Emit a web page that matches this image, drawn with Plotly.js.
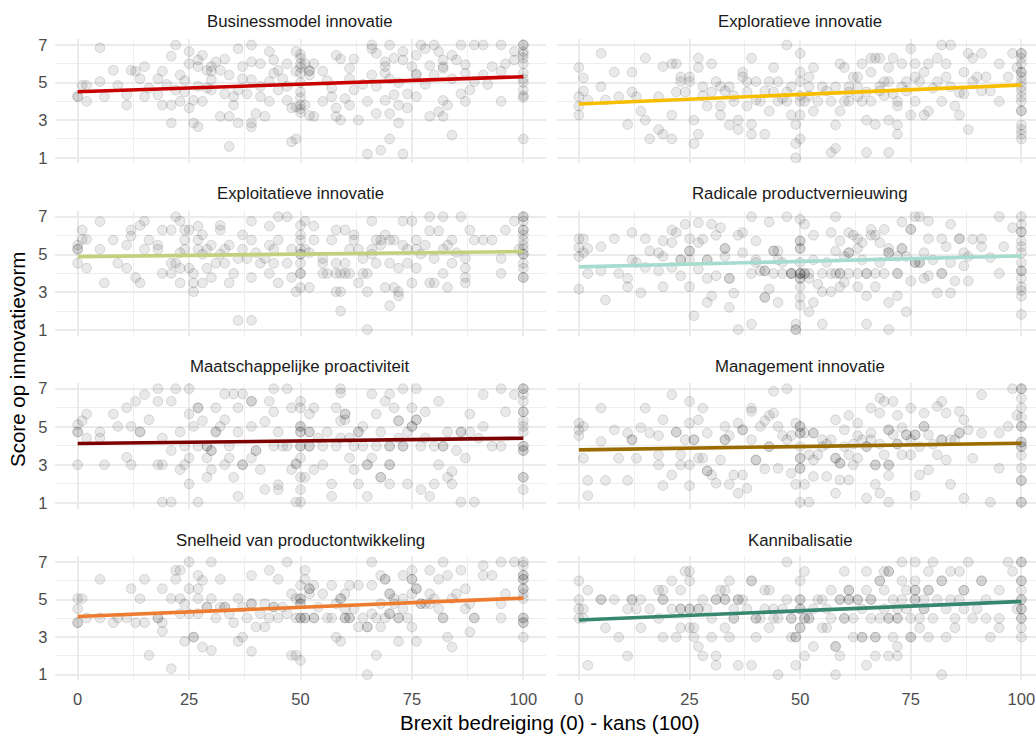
<!DOCTYPE html>
<html><head><meta charset="utf-8">
<script src="https://cdn.plot.ly/plotly-3.0.1.min.js"></script>
<style>html,body{margin:0;padding:0;overflow:hidden;background:#fff;width:1036px;height:735px}#chart{width:1044px;height:735px}</style>
</head><body><div id="chart"></div>
<script>
const panelTitles = ["Businessmodel innovatie","Exploratieve innovatie","Exploitatieve innovatie","Radicale productvernieuwing","Maatschappelijke proactiviteit","Management innovatie","Snelheid van productontwikkeling","Kannibalisatie"];
const xAxisTitle = "Brexit bedreiging (0) - kans (100)";
const yAxisTitle = "Score op innovatievorm";
const fitX = [0, 100];
const fitStart = [4.51, 3.86, 4.89, 4.35, 4.12, 3.79, 4.10, 3.91];
const fitEnd   = [5.31, 4.87, 5.16, 4.93, 4.40, 4.14, 5.08, 4.90];
const xTickVals = [0, 25, 50, 75, 100];
const xTickText = ["0", "25", "50", "75", "100"];
const xMinorVals = [12.5, 37.5, 62.5, 87.5];
const yTickVals = [1, 3, 5, 7];
const yTickText = ["1", "3", "5", "7"];
const yMinorVals = [2, 4, 6];

const ptsBusinessmodel = [[5,6.85],[22,7],[21,6.4],[25,6.65],[25,6],[27,6.2],[27,5.85],[28,6.45],[29,5.65],[30,5.85],[31,6.1],[32,5.65],[33,6.25],[36,6.8],[37,5.85],[39,7],[39,6.1],[41,6],[43,6.65],[44,6.2],[45,5.65],[47,6],[49,6.65],[50,6.5],[50,6.3],[50,6],[50,5.8],[50,5.5],[50,5],[50,4.5],[50,4.2],[50,3.8],[50,3.6],[50,3.4],[51,6],[52,5.65],[53,6],[58,6.45],[59,6.25],[61,5.75],[62,6.25],[66,7],[66,6.8],[67,6.55],[69,6.1],[69,5.85],[70,7],[71,6.3],[73,6.65],[73,6.2],[75,5.85],[76,6.45],[77,7],[78,6.8],[80,7],[81,6.65],[82,5.85],[82,6.2],[84,6.45],[86,7],[85,6.2],[87,5.95],[89,7],[91,7],[93,5.85],[95,7],[96,6],[98,6.65],[98,6.2],[100,7],[100,7],[100,6.65],[100,6.5],[100,6.3],[100,6],[100,5.5],[100,5.2],[100,5],[100,4.6],[100,4.3],[100,4.2],[100,2],[0,4.25],[0,4.25],[1,4.85],[2,4.85],[2,4],[5,5.05],[6,4.25],[8,5.65],[9,4.85],[11,4.35],[11,3.8],[12,5.65],[13,5.6],[14,5.2],[15,5.85],[15,4.25],[16,4.7],[18,5.2],[18,4.35],[19,5.6],[19,3.8],[21,2.85],[21,3.8],[22,4.6],[23,5.4],[23,4],[24,4.5],[25,3.65],[26,2.85],[27,2.65],[26,4.05],[28,4],[29,4.7],[30,5.15],[30,4.6],[32,3.2],[33,4.4],[34,3.2],[34,1.6],[35,4.25],[35,3.8],[36,2.85],[37,5.2],[38,4.4],[39,2.65],[39,2.85],[40,3.35],[41,4.25],[42,3.2],[43,4],[43,5.05],[45,4.6],[46,5.2],[47,4.05],[48,1.85],[49,2],[48,3.65],[49,3.7],[51,3.8],[52,3.25],[53,3.2],[55,4],[57,4.25],[58,3.2],[58,3.65],[59,3],[60,4.15],[61,3.8],[63,3],[65,1.2],[65,4],[67,3.35],[68,1.4],[69,4.05],[70,2],[70,3.35],[71,4.35],[72,3.8],[72,2.85],[73,1.2],[74,3.65],[76,4.25],[79,3.2],[81,3.45],[82,4.05],[82,3.2],[83,3.8],[84,2.2],[86,4.4],[87,4],[89,5.05],[91,5.4],[95,4],[95,5.6],[39,5.15],[44,5.5],[49,5.6],[76,5.4],[76,5.45],[80,5.4],[82,5.75],[69,5.5],[70,5.2],[61,5.2],[66,5.4],[87,5.5],[56,5.1],[64,4.9],[34,5.4],[30,5.6],[24,5.1],[52,5.4],[52,5.6],[47,4.8],[55,5.6],[57,4.7],[62,4.6],[67,4.8],[72,5.0],[74,4.4],[78,4.9],[79,5.9],[84,5.2],[88,4.6],[92,4.9],[20,4.9],[27,4.8],[36,4.6],[41,4.8]];

const ptsExploratief = [[0,5.8],[1,5.25],[0,4.25],[0,3.75],[0,3.27],[1,4.55],[2,4.07],[5,6.55],[5,4.78],[6,4.07],[8,5.55],[9,4.25],[11,2.77],[12,5.55],[12,4.5],[13,4.25],[14,3.48],[15,6.3],[15,3],[16,2],[18,4.25],[18,2.5],[19,5.85],[19,2.25],[21,6],[21,3.27],[21,2],[22,6],[22,4.5],[23,5.3],[23,5.05],[24,4.5],[25,5.3],[25,5.05],[26,3],[26,1.75],[27,6.3],[27,5.8],[27,2.25],[28,4.78],[29,3.75],[30,6],[30,4.5],[31,5.05],[32,3.27],[32,3.75],[33,4.55],[34,4.78],[34,2.75],[35,4],[36,3],[36,2.5],[37,5.55],[37,5.3],[38,5.05],[38,3.75],[39,6.3],[39,2.77],[39,2.25],[40,5.05],[41,4],[42,2.25],[42,4.55],[43,5.05],[43,3.48],[44,5.8],[45,5.05],[45,4],[47,7],[47,4],[48,4.78],[48,3.27],[49,2.77],[49,1.75],[49,1],[50,6.55],[50,5.55],[50,5.05],[50,4],[50,3.27],[50,2],[50,4.3],[51,4],[52,5.3],[52,4.78],[53,5.8],[53,3.48],[55,4.78],[57,1.28],[58,1.5],[58,2.75],[58,4.78],[59,3.48],[59,6],[60,5.8],[61,4.78],[61,4],[62,5.3],[63,5.3],[63,4.25],[64,6],[65,3],[65,1.28],[66,6.3],[66,5.55],[67,6.3],[68,6.3],[67,2.77],[68,4.55],[69,5.05],[70,5.8],[70,5.05],[70,3],[70,1.28],[71,6.3],[72,4],[72,3.75],[72,2.75],[72,2.25],[73,6],[74,5.05],[75,3.27],[75,6.8],[76,6],[76,4],[77,5.05],[78,5.55],[78,3.27],[79,6],[79,3.48],[81,6.3],[82,7],[84,7],[82,4],[83,5.3],[83,6],[85,3.75],[86,3.27],[87,5.55],[88,6.55],[88,2.5],[89,6.3],[89,5.05],[91,6.55],[91,4.55],[93,4.55],[95,6],[95,4],[97,5.3],[98,6.55],[99,5.8],[100,6.55],[100,6.55],[100,6.3],[100,6],[100,5.55],[100,5.55],[100,5.3],[100,5.05],[100,4.78],[100,4.55],[100,4.25],[100,4],[100,3.5],[100,3.5],[100,2.75],[100,2.5],[100,2.25],[100,2],[61,4.5],[65,4.5],[68,4.8],[73,4.78],[80,4.7],[86,4.45],[87,4.4],[32,4.8],[40,4.07],[46,4.15],[54,4],[57,4],[60,4],[66,4],[71,4.4],[44,4.5],[47,4.5],[52,4.3],[56,4.55],[63,4.78],[64,4.0],[69,4.3],[74,4.55],[76,5.3],[81,5.05],[84,4.78],[90,5.3],[92,5.3],[35,4.3],[28,4.3],[38,4.5]];

const ptsExploitatief = [[0,5.5],[0,5.28],[0,5.28],[0,4.54],[1,6.3],[1,5.8],[2,5.8],[2,4.28],[5,6.74],[5,5.28],[6,3.5],[8,5.77],[9,4.54],[11,5.5],[11,4.28],[12,6.3],[12,5.98],[13,3.79],[14,3.5],[14,6.54],[15,6.77],[15,5.28],[16,5.77],[18,5.5],[18,5.28],[19,6.3],[19,4],[21,6.3],[21,4.54],[21,4],[22,7],[22,4.54],[23,6.77],[23,5.1],[23,4.28],[23,3.5],[24,6.3],[24,5.77],[25,6.3],[25,4.28],[26,4],[26,3.5],[26,3.04],[27,6.5],[27,5.77],[27,5.28],[28,6.04],[28,3.5],[29,5.28],[29,4.28],[30,5.5],[30,3.79],[31,4.54],[32,6.3],[32,6.54],[33,5.28],[33,4.54],[34,5.5],[35,4],[34,3.5],[36,1.52],[39,1.52],[37,6.04],[37,5.28],[38,4.79],[39,6.77],[39,5.77],[39,3.79],[40,5.1],[41,4.54],[42,4.79],[43,4],[43,6.5],[43,5.5],[44,5.28],[45,7],[47,7],[45,5.77],[45,3.5],[47,4.54],[48,5.28],[48,3.79],[49,3.04],[50,6.54],[50,6.04],[50,5.77],[50,5.28],[50,5.02],[50,5.02],[50,4.54],[50,4],[50,4],[50,3.26],[51,6.77],[51,5.28],[52,5.1],[53,6.5],[53,5.77],[52,3.26],[55,4.54],[55,4],[57,5.77],[58,6.3],[58,3.04],[58,4.54],[58,4],[59,2.02],[59,3.04],[60,6.3],[60,4],[61,5.28],[62,5.77],[63,5.28],[63,3.5],[65,4],[65,3.04],[65,1.04],[66,6.77],[66,5.28],[67,4.54],[68,5.77],[69,6.04],[69,3.26],[70,4.54],[70,5.77],[70,2.3],[71,3.26],[72,3.04],[72,2.82],[73,5.5],[73,6.77],[75,6.77],[75,3.5],[76,5.77],[76,5.28],[77,5.02],[79,7],[82,7],[86,7],[79,6.25],[81,6.25],[80,4.79],[79,3.5],[80,3.5],[82,5.28],[82,4],[83,3.26],[84,5.77],[87,4.79],[87,4.28],[87,3.79],[87,3.5],[88,6.3],[89,5.77],[91,5.77],[93,5.77],[95,4.79],[95,4],[96,6.3],[98,6.77],[99,5.28],[100,7],[100,7],[100,6.77],[100,6.3],[100,6.3],[100,6.04],[100,5.77],[100,5.5],[100,5.28],[100,5.02],[100,5.02],[100,4.54],[100,4.28],[100,3.79],[100,3.79],[55,4.79],[60,4.54],[64,4.79],[66,5.02],[74,4.54],[76,4.28],[84,4.54],[44,4.54],[56,4.0],[59,4.0],[61,4.0],[64,4.0],[67,5.77],[68,5.5],[71,5.77],[72,4.28],[74,5.28],[78,5.5],[83,5.5],[85,5.1],[62,6.04],[36,4.79],[32,5.02],[28,5.02],[24,5.28]];

const ptsRadicaal = [[0,5.84],[1,5.84],[0,5.37],[0,4.9],[1,5.1],[2,5.32],[0,3.18],[2,4],[5,5.42],[5,4.14],[6,2.6],[8,5.84],[9,4],[11,3.74],[11,3.3],[12,6.16],[12,4.72],[13,4.58],[14,2.98],[15,5.84],[15,4.32],[16,5.19],[18,5.1],[18,4.14],[19,5.72],[19,4.9],[19,3.3],[21,6.3],[21,5.63],[21,4.32],[22,6.16],[23,4.72],[23,4.72],[23,3.88],[24,6.6],[25,5.84],[25,5.19],[25,5.19],[25,4.72],[25,3.3],[26,1.77],[27,6.68],[27,5.63],[27,4.23],[28,5.81],[29,4.72],[29,4.72],[29,3.74],[29,2.47],[30,6.6],[30,2.82],[31,6.02],[31,3.88],[32,6.42],[33,5.32],[33,5.32],[33,4.9],[34,3.74],[34,3.74],[34,2.21],[35,2.96],[36,1.04],[36,6.02],[37,5.1],[37,6.16],[39,7],[39,1.33],[39,4],[40,5.72],[40,4.72],[41,4.14],[42,2.74],[42,2.74],[42,4.14],[42,4.14],[43,6.72],[43,3.18],[44,5.19],[44,5.19],[45,5.19],[45,2.47],[46,4],[47,7],[48,4],[48,4],[48,4],[49,1.33],[49,1.04],[49,1.04],[50,6.86],[50,5.72],[50,5.72],[50,5.32],[50,5.32],[50,4.58],[50,4],[50,4],[50,4],[50,3.74],[50,3.74],[50,3.3],[50,2.74],[50,2.33],[51,6.6],[51,4],[51,4],[52,3.74],[52,1.98],[53,6.02],[53,2.47],[54,3.44],[55,1.33],[55,3.04],[57,3.04],[57,6.16],[58,7],[58,5.19],[58,4],[59,5.72],[59,4],[59,4],[59,3.3],[60,3.53],[61,6.16],[61,5.1],[61,5.1],[62,6.02],[63,5.84],[63,5.32],[63,3.3],[65,4],[65,4],[65,2.82],[65,1.33],[66,6.33],[66,6.02],[67,3.3],[68,5.63],[69,6.33],[70,5.1],[70,5.1],[70,5.32],[70,2.47],[70,1.04],[72,4],[72,4],[72,2.82],[73,6.72],[73,5.32],[73,5.32],[74,1.98],[75,6.33],[75,6.33],[75,3.6],[76,7],[77,7],[76,4.58],[76,4.58],[77,4.58],[77,4.58],[78,3.74],[79,6.77],[79,5.84],[79,3.88],[81,2.98],[82,4],[82,4],[82,5.84],[84,6.6],[84,2.98],[85,3.6],[86,5.84],[86,5.84],[87,5.1],[87,4.4],[88,3.6],[89,5.81],[91,5.84],[91,5.42],[93,4.84],[95,7],[95,4],[96,5.42],[98,6.42],[100,7],[100,6.6],[100,6.2],[100,6.2],[100,5.72],[100,5.42],[100,5.1],[100,4.58],[100,4.14],[100,4.14],[100,3.74],[100,3.3],[100,3.1],[100,2.8],[100,1.84],[53,4.72],[56,4.58],[60,4.9],[64,4.72],[68,4.58],[72,4.9],[80,4.72],[84,4.58],[88,4.9],[45,4.72],[40,4.58],[44,4.0],[46,4.58],[52,4.0],[55,4.0],[57,4.0],[61,4.0],[63,4.0],[67,4.0],[69,4.0],[74,4.9],[78,5.1],[83,5.42],[64,5.63],[67,6.02]];

const ptsMaatschappelijk = [[0,5.11],[0,4.73],[0,4.73],[1,5.32],[2,5.67],[2,4.41],[0,3.01],[5,4.73],[5,4.41],[6,3.01],[8,5.67],[9,5.02],[11,6],[11,3.4],[12,5.02],[12,3.01],[13,6.34],[14,4.73],[14,4.73],[15,6.69],[16,5.37],[18,7],[18,6.34],[18,3.01],[19,3.01],[19,4.41],[19,1.05],[21,1.05],[21,6.34],[22,7],[21,3.75],[23,4.73],[23,2.75],[24,3.98],[24,3.01],[25,3.36],[25,7],[25,5.67],[25,2],[26,5.02],[27,6],[27,6],[27,3.98],[27,1.05],[28,5.32],[29,3.98],[29,3.98],[29,3.36],[29,2.35],[30,3.75],[30,3.75],[30,2.75],[31,4.73],[31,4.73],[31,6],[32,5.02],[33,5.37],[33,3.01],[33,6.72],[35,6.72],[37,6.72],[34,3.36],[35,2.35],[36,6],[36,1.35],[37,3.01],[37,3.01],[39,5.02],[39,6.34],[39,6.34],[39,3.36],[40,3.75],[40,3.75],[41,2.75],[42,5.28],[42,1.7],[43,6.34],[44,7],[47,7],[44,5.79],[45,4.73],[45,1.96],[45,1.7],[47,3.98],[48,6],[48,2.75],[49,1.05],[50,1.05],[49,3.05],[49,3.05],[50,6.34],[50,6],[50,5.02],[50,5.02],[50,4.73],[50,4.73],[50,3.98],[50,3.98],[50,3.36],[50,2.35],[50,1.7],[51,2.35],[52,4.73],[52,4.73],[52,3.98],[52,3.98],[52,5.67],[53,6],[53,2.75],[55,3.01],[57,2],[57,1.35],[58,6],[59,7],[59,6.77],[59,5.32],[59,4.41],[60,5.67],[60,5.67],[60,5.37],[61,3.36],[62,2.75],[63,4.73],[63,4.73],[63,2],[64,5.02],[65,3.01],[65,3.01],[65,1.35],[66,6.72],[66,3.36],[67,5.67],[68,2.35],[68,2.35],[69,6.34],[70,6.72],[70,3.98],[70,3.98],[70,3.01],[70,3.01],[70,2],[71,6],[72,5.32],[72,5.32],[73,7],[73,3.98],[73,3.98],[74,2],[75,6],[75,5.02],[75,5.02],[76,5.37],[76,5.37],[76,7],[77,3.98],[77,1.7],[78,5.79],[79,1.35],[80,2],[81,6.34],[81,3.01],[82,3.98],[82,3.98],[83,2.35],[84,2.65],[84,2],[86,4.73],[86,4.73],[86,1.05],[87,3.36],[88,5.67],[89,1.05],[91,6.69],[91,5.02],[95,7],[98,6.69],[95,3.98],[96,5.79],[100,7],[100,7],[100,6.7],[100,6.34],[100,5.79],[100,5.79],[100,5.3],[100,5.02],[100,4.73],[100,3.98],[100,3.98],[100,3.75],[100,3.75],[100,2.35],[100,2.35],[100,1.7],[55,3.98],[58,3.98],[62,3.98],[67,3.98],[80,3.98],[85,3.75],[90,4.4],[93,3.98],[44,3.98],[46,3.98],[54,4.41],[56,4.73],[61,4.41],[64,3.98],[68,4.73],[72,4.41],[74,4.73],[78,4.41],[83,4.73],[88,4.73],[36,4.73],[34,3.98]];

const ptsManagement = [[0,5.19],[0,4.84],[0,4.54],[1,5.02],[1,3.35],[2,2.18],[2,1.39],[5,5.98],[5,4.23],[6,2.18],[8,4.84],[9,3.35],[11,4.67],[11,2.18],[12,4.32],[12,4.32],[13,3.35],[14,4.96],[15,5.98],[16,4.67],[18,4.54],[18,3.53],[18,3],[19,5.37],[19,1.91],[21,6.68],[21,2.47],[22,4.72],[22,4.72],[23,3.53],[23,3],[24,4.32],[25,6.33],[25,5.19],[25,3],[25,1.91],[26,4.32],[26,4.32],[27,5.37],[27,3.35],[28,5.98],[28,3.35],[29,2.68],[29,2.68],[29,4.67],[30,2.47],[31,2.04],[32,3.26],[33,5.02],[33,4.32],[33,4.32],[34,4.54],[34,1.98],[35,2.47],[36,5.19],[36,1.51],[37,4.84],[37,4.84],[37,2.47],[38,1.77],[39,4.32],[39,5.98],[39,5.81],[40,3.26],[40,3.26],[41,5.02],[42,2.79],[42,5.32],[43,3.96],[43,3.96],[43,5.6],[44,5.72],[44,6.86],[47,7],[45,5.02],[45,2.82],[46,4.54],[48,4.54],[48,2.56],[49,5.19],[49,1.98],[50,5.02],[50,5.02],[50,4.67],[50,4.67],[50,3.96],[50,3.35],[50,3.35],[50,2.82],[50,2.82],[50,1.04],[51,4.67],[51,1.98],[52,1.04],[53,4.67],[53,4.67],[53,3.26],[53,2.39],[54,3.53],[55,4.32],[56,2.39],[58,1.51],[58,5.37],[58,3.35],[58,3.35],[59,3.09],[59,3.09],[59,2.21],[60,4.84],[61,5.6],[61,2.21],[62,3],[63,5.19],[63,3.35],[65,3.96],[65,3.96],[65,1.25],[66,5.98],[66,4.67],[67,3],[67,3],[67,1.98],[68,5.72],[68,1.51],[68,6.51],[69,6.33],[70,4.84],[70,4.84],[70,3],[70,3],[70,2.44],[70,1.04],[71,6.33],[72,4.09],[72,4.09],[72,5.6],[73,4.96],[74,4.58],[74,4.58],[75,5.98],[75,3.53],[76,4.58],[76,4.58],[76,1.39],[77,2.47],[78,5.02],[78,5.02],[78,5.72],[79,2.74],[81,6.07],[82,6.33],[82,4.32],[82,4.32],[83,3.26],[83,5.72],[84,4.32],[84,1.98],[86,5.81],[86,4.67],[86,4.67],[87,5.37],[87,1.25],[89,3.35],[91,6.68],[91,4.67],[93,1.04],[95,2.82],[95,4.67],[97,5.02],[98,7],[99,5.6],[100,7],[100,7],[100,6.5],[100,6],[100,5.5],[100,5.02],[100,5.02],[100,4.2],[100,4.2],[100,3.96],[100,3.96],[100,3.5],[100,2.82],[100,2.18],[100,2.18],[100,1.04],[100,1.04],[55,3.96],[60,3.96],[64,4.32],[68,4.09],[80,4.09],[57,4.32],[62,4.09],[47,4.32],[52,3.53],[56,4.09],[61,3.53],[63,4.54],[66,4.32],[69,3.53],[71,4.58],[73,3.53],[75,4.32],[77,3.96],[79,4.58],[81,3.53],[85,4.32],[88,4.84]];

const ptsSnelheid = [[0,5.05],[1,5.05],[0,4.51],[0,3.77],[0,3.77],[2,4.02],[5,6.08],[5,4.02],[8,3.77],[9,4.02],[11,4.02],[12,5.58],[13,3.77],[14,5.05],[15,6.08],[15,3.77],[16,2.03],[18,4.02],[18,4.02],[19,5.58],[19,3.77],[19,3.31],[21,5.05],[21,1.32],[22,6.56],[23,6.56],[22,6.08],[23,5.05],[23,4.25],[24,4.78],[24,2.77],[25,7],[25,5.58],[25,4.25],[26,3],[26,3],[27,6.29],[27,5.58],[27,5.05],[27,4.25],[28,6.02],[28,2.47],[29,4.6],[29,4.6],[30,7],[30,5.05],[30,2.29],[31,4.02],[32,6.08],[32,4.6],[33,4.6],[33,4.6],[34,4.25],[35,3.77],[36,5.05],[36,2.77],[37,3],[38,4.02],[39,6.29],[39,4.78],[39,4.78],[39,2.24],[40,3.54],[41,4.25],[42,3.54],[43,6.56],[43,4.02],[44,4.6],[44,4.6],[45,6.08],[45,4.02],[47,7],[48,5.31],[48,2.03],[49,2.03],[49,5.05],[49,4.02],[50,5.76],[50,5.05],[50,5.05],[50,4.78],[50,4.78],[50,4.02],[50,4.02],[50,1.76],[51,6.56],[51,6.08],[51,4.02],[51,4.02],[53,4.02],[53,4.02],[52,5.58],[52,5.58],[52,5.31],[53,5.76],[55,5.31],[57,5.76],[57,4.02],[58,3],[59,5.05],[59,5.05],[59,2.77],[60,5.31],[60,4.51],[60,4.02],[60,4.02],[61,4.02],[61,4.02],[61,5.76],[63,3.54],[63,5.76],[65,3.54],[65,3.54],[65,1],[66,7],[66,5.76],[67,2.03],[68,3.54],[68,6.29],[69,6.08],[69,6.08],[69,4.02],[70,5.31],[70,5.31],[70,4.25],[70,4.25],[71,4.78],[72,2.77],[72,4.02],[72,4.02],[73,5.05],[73,6.29],[75,6.56],[75,6.08],[75,6.08],[75,3.54],[76,5.58],[76,5.58],[76,2.77],[77,4.78],[77,4.78],[79,6.56],[79,4.78],[81,6.08],[82,7],[82,4.02],[82,4.02],[83,6.29],[83,3],[84,2.47],[86,6.56],[87,4.51],[87,5.58],[88,3.27],[89,4.02],[89,4.02],[91,6.82],[91,6.29],[93,6.29],[95,7],[95,4.02],[95,4.78],[96,5.31],[98,7],[100,7],[100,6.82],[100,6.3],[100,6.3],[100,6.08],[100,6.08],[100,5.58],[100,5.58],[100,5.31],[100,5.05],[100,4.02],[100,4.02],[100,3.77],[100,3.77],[100,3],[56,4.02],[64,4.02],[67,4.02],[74,4.02],[78,4.78],[80,5.05],[84,5.05],[37,4.6],[46,4.6],[54,4.6],[58,4.78],[62,4.51],[66,4.25],[68,4.78],[71,5.05],[73,4.51],[75,5.31],[79,5.31],[81,4.51],[85,5.31],[88,4.78],[42,4.78],[47,4.25]];

const ptsKannibalisatie = [[0,6],[0,5],[0,4.5],[1,4.5],[0,4],[1,4],[2,5.5],[2,1.5],[5,5],[5,5],[6,3.5],[8,5],[9,3],[11,4.5],[11,2],[12,5],[12,5],[13,4.5],[14,5],[14,3.5],[16,4.5],[18,4],[18,5.5],[19,5.5],[19,5],[19,5],[19,3],[21,6],[21,4.5],[22,3],[23,5.5],[23,4.5],[23,4.5],[23,3.5],[24,6.5],[25,6.5],[25,6],[25,4.5],[25,4.5],[25,3.5],[26,3.5],[26,3],[27,4.5],[27,4.5],[27,2.5],[28,5],[28,2],[29,4.5],[30,4],[30,3],[31,5],[31,5],[31,2],[31,1.5],[32,5.5],[33,5.5],[33,5],[33,5],[33,3.5],[34,6],[34,3],[35,4],[35,4],[36,5],[36,5],[37,5],[36,1.5],[38,4.5],[39,6],[39,6],[39,1.5],[40,4],[40,4],[40,3],[41,4],[42,4.5],[42,5.5],[43,5.5],[43,3.5],[44,4],[45,4],[45,1],[47,7],[47,5],[48,3],[48,4],[48,4],[49,3],[49,3],[49,1.5],[50,6],[50,5],[50,5],[50,4.5],[50,4.5],[50,3.5],[50,3.5],[51,6.5],[51,4],[51,4],[51,2],[52,4],[52,4],[53,2.5],[54,5],[55,3.5],[56,3.5],[58,2.5],[58,2.5],[58,1],[59,5],[59,5],[59,2],[60,6.5],[60,4],[60,4],[61,5.5],[61,5.5],[61,5],[61,5],[62,3],[63,5],[63,5],[64,3],[64,3],[65,6.5],[65,1.5],[66,5],[66,5],[67,3],[67,3],[67,2],[68,6],[68,6],[69,5.5],[69,6.5],[70,6.5],[70,6.5],[70,4],[70,4],[70,2],[71,3],[72,4.5],[72,4],[72,4],[72,2.5],[72,2],[73,7],[73,6],[73,5],[74,5.5],[75,3],[75,3],[76,7],[76,6],[76,5.5],[76,5.5],[76,5],[76,5],[77,3.5],[78,4.5],[78,4.5],[79,5.5],[79,5.5],[79,6.5],[79,3],[80,7],[81,5],[82,6],[82,6],[82,1],[83,3],[84,6.5],[84,5],[85,3.5],[86,6.5],[87,5.5],[87,5.5],[87,4.5],[88,7],[89,4],[91,6],[91,6],[93,3],[95,5.5],[95,4],[95,3.5],[97,7],[98,6.5],[99,4.5],[100,7],[100,7],[100,6],[100,6],[100,5.5],[100,5],[100,5],[100,4.5],[100,4.5],[100,4],[100,4],[100,3.5],[100,3],[56,4.5],[64,4.5],[69,4.5],[74,4.5],[83,4.5],[90,4.5],[46,4.5],[44,4.5],[53,4.5],[35,4.5],[62,4],[57,4],[66,4],[68,4],[75,4],[77,4],[80,4],[85,4],[92,4],[55,5],[57,5.5],[65,5.5],[71,5],[78,5],[86,5],[92,5]];

const panelPoints = [ptsBusinessmodel, ptsExploratief, ptsExploitatief, ptsRadicaal, ptsMaatschappelijk, ptsManagement, ptsSnelheid, ptsKannibalisatie];

// styling
const lineColors = ["#C80000", "#F7BE00", "#C3D07E", "#A6DCCF", "#7D0000", "#9A6C00", "#EE7C30", "#37866F"];
const W = 1044, H = 735;
const FONT = "Liberation Sans, Arial, sans-serif";
const colPx = [[55.4, 545.6], [556.8, 1043.5]];
const colRange = [[-5, 105], [-5, 105]];
const rowPx = [[39.3, 163.4], [211.0, 336.0], [383.0, 508.7], [556.4, 680.3]];
const stripY = [22, 193, 366, 540];
const stripX = [300, 800];

const traces = [];
const layout = {
  width: W, height: H,
  margin: {l: 0, r: 0, t: 0, b: 0},
  paper_bgcolor: "#ffffff", plot_bgcolor: "#ffffff",
  showlegend: false,
  font: {family: FONT},
  annotations: []
};

panelPoints.forEach((pts, i) => {
  const row = Math.floor(i / 2), col = i % 2;
  const sfx = i === 0 ? "" : String(i + 1);
  const xa = "x" + sfx, ya = "y" + sfx;
  traces.push({
    type: "scatter", mode: "markers",
    x: pts.map(p => p[0]), y: pts.map(p => p[1]),
    xaxis: xa, yaxis: ya,
    marker: {size: 9.8, color: "rgba(0,0,0,0.085)", line: {color: "rgba(0,0,0,0.12)", width: 1}},
    hoverinfo: "skip", cliponaxis: false
  });
  traces.push({
    type: "scatter", mode: "lines",
    x: fitX, y: [fitStart[i], fitEnd[i]],
    xaxis: xa, yaxis: ya,
    line: {color: lineColors[i], width: 3.6},
    hoverinfo: "skip"
  });
  layout["xaxis" + sfx] = {
    domain: [colPx[col][0] / W, colPx[col][1] / W],
    range: colRange[col], anchor: ya,
    tickmode: "array", tickvals: xTickVals, ticktext: xTickText,
    showticklabels: row === 3, ticks: "",
    ticklabeloverflow: "allow",
    tickfont: {family: FONT, size: 16.5, color: "#4D4D4D"},
    ticklabelstandoff: 7,
    showgrid: true, gridcolor: "#EBEBEB", gridwidth: 2,
    minor: {tickmode: "array", tickvals: xMinorVals, showgrid: true, gridcolor: "#EEEEEE", gridwidth: 1, ticks: ""},
    zeroline: false, showline: false, fixedrange: true
  };
  layout["yaxis" + sfx] = {
    domain: [1 - rowPx[row][1] / H, 1 - rowPx[row][0] / H],
    range: [0.7, 7.3], anchor: xa,
    tickmode: "array", tickvals: yTickVals, ticktext: yTickText,
    showticklabels: col === 0, ticks: "",
    tickfont: {family: FONT, size: 16.5, color: "#4D4D4D"},
    ticklabelstandoff: 7,
    showgrid: true, gridcolor: "#EBEBEB", gridwidth: 2,
    minor: {tickmode: "array", tickvals: yMinorVals, showgrid: true, gridcolor: "#EEEEEE", gridwidth: 1, ticks: ""},
    zeroline: false, showline: false, fixedrange: true
  };
  layout.annotations.push({
    xref: "paper", yref: "paper",
    x: stripX[col] / W, y: 1 - stripY[row] / H,
    xanchor: "center", yanchor: "middle",
    text: panelTitles[i], showarrow: false,
    font: {family: FONT, size: 16.8, color: "#1A1A1A"}
  });
});

layout.annotations.push({
  xref: "paper", yref: "paper", x: 550 / W, y: 1 - 722 / H,
  xanchor: "center", yanchor: "middle", showarrow: false,
  text: xAxisTitle, font: {family: FONT, size: 20.5, color: "#000000"}
});
layout.annotations.push({
  xref: "paper", yref: "paper", x: 17 / W, y: 1 - 360 / H,
  xanchor: "center", yanchor: "middle", showarrow: false, textangle: -90,
  text: yAxisTitle, font: {family: FONT, size: 20.5, color: "#000000"}
});

Plotly.newPlot("chart", traces, layout, {staticPlot: true, displayModeBar: false});
</script>
</body></html>
